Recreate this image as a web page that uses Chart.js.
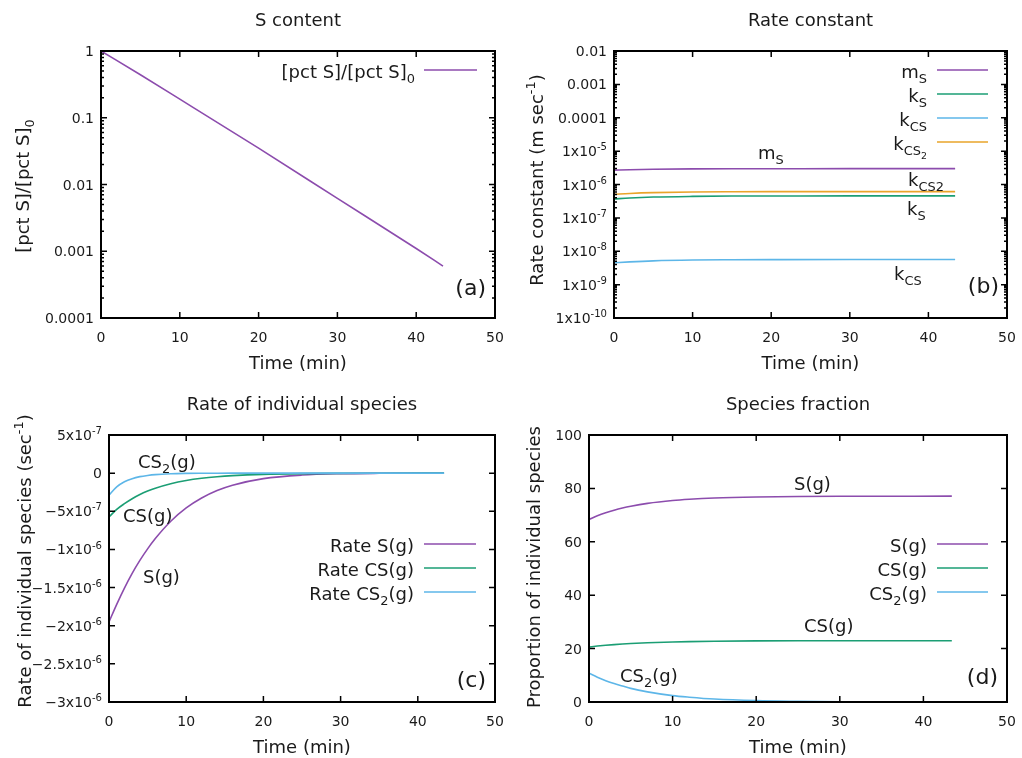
<!DOCTYPE html>
<html lang="en">
<head>
<meta charset="UTF-8">
<title>S content and rates</title>
<script src="https://cdn.jsdelivr.net/npm/chart.js"></script>
<style>
  body { margin: 0; background: #fff; }
  #wrap { position: relative; width: 1022px; height: 758px; }
  canvas { position: absolute; }
</style>
</head>
<body>
<div id="wrap">
  <canvas id="chartA" width="511" height="379" style="left:0;top:0"></canvas>
  <canvas id="chartB" width="511" height="379" style="left:511px;top:0"></canvas>
  <canvas id="chartC" width="511" height="379" style="left:0;top:379px"></canvas>
  <canvas id="chartD" width="511" height="379" style="left:511px;top:379px"></canvas>
</div>
<script>
// ---- data ----
const xTicks = [0, 10, 20, 30, 40, 50];

// (a) S content
const timeA = [0, 5, 10, 20, 30, 40, 43.4];
const sRatio = [1, 0.44, 0.19, 0.035, 0.0062, 0.0011, 0.0006];
const yTicksA = [1, 0.1, 0.01, 0.001, 0.0001];
const yLabelsA = ['1', '0.1', '0.01', '0.001', '0.0001'];

// (b) rate constants
const timeB = [0, 2, 5, 10, 15, 20, 30, 43.4];
const mS   = [2.7e-6, 2.78e-6, 2.86e-6, 2.93e-6, 2.96e-6, 2.97e-6, 2.98e-6, 2.98e-6];
const kS   = [3.7e-7, 3.95e-7, 4.2e-7, 4.4e-7, 4.5e-7, 4.52e-7, 4.55e-7, 4.55e-7];
const kCS  = [4.5e-9, 4.8e-9, 5.15e-9, 5.45e-9, 5.55e-9, 5.6e-9, 5.65e-9, 5.65e-9];
const kCS2 = [5.1e-7, 5.4e-7, 5.7e-7, 5.95e-7, 6.05e-7, 6.1e-7, 6.1e-7, 6.1e-7];
const yTicksB = [1e-2, 1e-3, 1e-4, 1e-5, 1e-6, 1e-7, 1e-8, 1e-9, 1e-10];
const yLabelsB = ['0.01', '0.001', '0.0001', '1x10^{-5}', '1x10^{-6}', '1x10^{-7}', '1x10^{-8}', '1x10^{-9}', '1x10^{-10}'];

// (c) rate of individual species
const timeC = [0, 1, 2, 3, 4, 5, 6, 8, 10, 12, 14, 16, 20, 25, 30, 35, 43.4];
const rateS   = [-1.95e-6, -1.72e-6, -1.507e-6, -1.314e-6, -1.144e-6, -9.93e-7, -8.58e-7, -6.31e-7, -4.56e-7, -3.26e-7, -2.28e-7, -1.58e-7, -7.2e-8, -2.5e-8, -7.6e-9, -2e-9, 0];
const rateCS  = [-5.75e-7, -4.75e-7, -4.0e-7, -3.35e-7, -2.8e-7, -2.35e-7, -1.97e-7, -1.38e-7, -9.6e-8, -6.7e-8, -4.7e-8, -3.3e-8, -1.6e-8, -6.5e-9, -2.6e-9, -1e-9, 0];
const rateCS2 = [-2.88e-7, -1.8e-7, -1.13e-7, -7.2e-8, -4.6e-8, -3.0e-8, -1.9e-8, -8e-9, -3.3e-9, -1.4e-9, -6e-10, -2.5e-10, -5e-11, 0, 0, 0, 0];
const yTicksC = [5e-7, 0, -5e-7, -1e-6, -1.5e-6, -2e-6, -2.5e-6, -3e-6];
const yLabelsC = ['5x10^{-7}', '0', '\u22125x10^{-7}', '\u22121x10^{-6}', '\u22121.5x10^{-6}', '\u22122x10^{-6}', '\u22122.5x10^{-6}', '\u22123x10^{-6}'];

// (d) species fraction
const timeD = [0, 1, 2, 3, 4, 5, 7, 10, 12, 15, 20, 25, 30, 43.4];
const fracS   = [68.4, 69.74, 70.86, 71.82, 72.64, 73.32, 74.39, 75.46, 75.92, 76.39, 76.79, 76.97, 77.04, 77.1];
const fracCS  = [20.6, 20.95, 21.25, 21.5, 21.72, 21.9, 22.2, 22.5, 22.63, 22.77, 22.88, 22.93, 22.95, 22.96];
const fracCS2 = [10.8, 9.3, 8.0, 6.9, 6.0, 5.1, 3.8, 2.4, 1.8, 1.1, 0.5, 0.25, 0.1, 0.02];
const yTicksD = [0, 20, 40, 60, 80, 100];
const yLabelsD = ['0', '20', '40', '60', '80', '100'];

const PURPLE = '#8c4cad', GREEN = '#1b9e74', BLUE = '#5db6e8', ORANGE = '#e9a42a';
const FONT = '"DejaVu Sans", sans-serif';
const INK = '#1a1a1a';

// ---- rich text: a_{sub}, a^{sup}, nesting allowed ----
function parseRich(s, scale, dy, out) {
  let buf = '', i = 0;
  while (i < s.length) {
    const c = s[i];
    if ((c === '_' || c === '^') && s[i + 1] === '{') {
      if (buf) { out.push({ t: buf, scale, dy }); buf = ''; }
      let depth = 1, j = i + 2;
      while (j < s.length && depth > 0) {
        if (s[j] === '{') depth++;
        else if (s[j] === '}') depth--;
        j++;
      }
      const inner = s.slice(i + 2, j - 1);
      if (c === '_') parseRich(inner, scale * 0.72, dy + 0.3 * scale, out);
      else parseRich(inner, scale * 0.72, dy - 0.42 * scale, out);
      i = j;
    } else { buf += c; i++; }
  }
  if (buf) out.push({ t: buf, scale, dy });
  return out;
}

function drawRich(ctx, str, x, y, size, align) {
  const segs = parseRich(str, 1, 0, []);
  let w = 0;
  segs.forEach(sg => {
    ctx.font = (size * sg.scale) + 'px ' + FONT;
    sg.w = ctx.measureText(sg.t).width;
    w += sg.w;
  });
  let cx = align === 'right' ? x - w : align === 'center' ? x - w / 2 : x;
  ctx.textAlign = 'left';
  ctx.textBaseline = 'alphabetic';
  ctx.fillStyle = INK;
  segs.forEach(sg => {
    ctx.font = (size * sg.scale) + 'px ' + FONT;
    ctx.fillText(sg.t, cx, y + sg.dy * size);
    cx += sg.w;
  });
}

// per-canvas decorations (gnuplot look)
const panels = {
  chartA: {
    area: { left: 101, right: 495, top: 51, bottom: 318 },
    title: 'S content',
    yLabel: { t: '[pct S]/[pct S]_{0}', x: 29, y: 186 },
    yTicks: yTicksA, yLabels: yLabelsA, log: true,
    legend: { right: 415, x1: 424, x2: 477, ys: [70], labels: ['[pct S]/[pct S]_{0}'] },
    notes: [],
    tag: { t: '(a)', right: 486, y: 295 }
  },
  chartB: {
    area: { left: 103, right: 496, top: 51, bottom: 318 },
    title: 'Rate constant',
    yLabel: { t: 'Rate constant (m sec^{-1})', x: 32, y: 180 },
    yTicks: yTicksB, yLabels: yLabelsB, log: true,
    legend: { right: 416, x1: 426, x2: 477, ys: [70, 94, 118, 142], labels: ['m_{S}', 'k_{S}', 'k_{CS}', 'k_{CS_{2}}'] },
    notes: [
      { t: 'm_{S}', x: 247, y: 159 },
      { t: 'k_{CS2}', x: 397, y: 186 },
      { t: 'k_{S}', x: 396, y: 215 },
      { t: 'k_{CS}', x: 383, y: 280 }
    ],
    tag: { t: '(b)', right: 488, y: 293 }
  },
  chartC: {
    area: { left: 109, right: 495, top: 56, bottom: 323 },
    title: 'Rate of individual species',
    yLabel: { t: 'Rate of individual species (sec^{-1})', x: 31, y: 182 },
    yTicks: yTicksC, yLabels: yLabelsC, log: false,
    legend: { right: 414, x1: 424, x2: 476, ys: [165, 189, 213], labels: ['Rate S(g)', 'Rate CS(g)', 'Rate CS_{2}(g)'] },
    notes: [
      { t: 'CS_{2}(g)', x: 138, y: 89 },
      { t: 'CS(g)', x: 123, y: 143 },
      { t: 'S(g)', x: 143, y: 204 }
    ],
    tag: { t: '(c)', right: 486, y: 308 }
  },
  chartD: {
    area: { left: 78, right: 496, top: 56, bottom: 323 },
    title: 'Species fraction',
    yLabel: { t: 'Proportion of individual species', x: 29, y: 188 },
    yTicks: yTicksD, yLabels: yLabelsD, log: false,
    legend: { right: 416, x1: 426, x2: 477, ys: [165, 189, 213], labels: ['S(g)', 'CS(g)', 'CS_{2}(g)'] },
    notes: [
      { t: 'S(g)', x: 283, y: 111 },
      { t: 'CS(g)', x: 293, y: 253 },
      { t: 'CS_{2}(g)', x: 109, y: 303 }
    ],
    tag: { t: '(d)', right: 487, y: 305 }
  }
};

const gnuFrame = {
  id: 'gnuFrame',
  afterDraw(chart) {
    const p = panels[chart.canvas.id];
    const ctx = chart.ctx;
    const a = chart.chartArea;
    const xs = chart.scales.x, ys = chart.scales.y;
    ctx.save();

    // inward tick marks
    ctx.strokeStyle = '#000';
    ctx.lineWidth = 1.5;
    ctx.beginPath();
    xTicks.forEach(v => {
      const px = xs.getPixelForValue(v);
      ctx.moveTo(px, a.bottom); ctx.lineTo(px, a.bottom - 6);
      ctx.moveTo(px, a.top); ctx.lineTo(px, a.top + 6);
    });
    p.yTicks.forEach(v => {
      const py = ys.getPixelForValue(v);
      ctx.moveTo(a.left, py); ctx.lineTo(a.left + 6, py);
      ctx.moveTo(a.right, py); ctx.lineTo(a.right - 6, py);
    });
    if (p.log) {
      const lo = Math.round(Math.log10(ys.min)), hi = Math.round(Math.log10(ys.max));
      for (let k = lo; k < hi; k++) {
        for (let m = 2; m <= 9; m++) {
          const py = ys.getPixelForValue(m * Math.pow(10, k));
          ctx.moveTo(a.left, py); ctx.lineTo(a.left + 3, py);
          ctx.moveTo(a.right, py); ctx.lineTo(a.right - 3, py);
        }
      }
    }
    ctx.stroke();

    // frame
    ctx.lineWidth = 2;
    ctx.strokeRect(a.left, a.top, a.right - a.left, a.bottom - a.top);

    // tick labels
    xTicks.forEach(v => drawRich(ctx, String(v), xs.getPixelForValue(v), a.bottom + 24, 14, 'center'));
    p.yTicks.forEach((v, i) => drawRich(ctx, p.yLabels[i], a.left - 7, ys.getPixelForValue(v) + 5, 14, 'right'));

    // titles
    const cx = (a.left + a.right) / 2;
    drawRich(ctx, p.title, cx, a.top - 25, 18, 'center');
    drawRich(ctx, 'Time (min)', cx, a.bottom + 51, 18, 'center');
    ctx.save();
    ctx.translate(p.yLabel.x, p.yLabel.y);
    ctx.rotate(-Math.PI / 2);
    drawRich(ctx, p.yLabel.t, 0, 0, 18, 'center');
    ctx.restore();

    // key
    p.legend.ys.forEach((y, i) => {
      const ds = chart.data.datasets[i];
      ctx.strokeStyle = ds.borderColor;
      ctx.lineWidth = 1.5;
      ctx.beginPath();
      ctx.moveTo(p.legend.x1, y); ctx.lineTo(p.legend.x2, y);
      ctx.stroke();
      drawRich(ctx, p.legend.labels[i], p.legend.right, y + 7.5, 18, 'right');
    });

    // curve labels and panel tag
    p.notes.forEach(n => drawRich(ctx, n.t, n.x, n.y, 18, 'left'));
    drawRich(ctx, p.tag.t, p.tag.right, p.tag.y, 22, 'right');
    ctx.restore();
  }
};

function series(xs, ys, color, order) {
  return {
    data: xs.map((x, i) => ({ x: x, y: ys[i] })),
    borderColor: color,
    borderWidth: 1.6,
    pointRadius: 0,
    fill: false,
    cubicInterpolationMode: 'monotone',
    order: order
  };
}

function makePanel(id, yType, yMin, yMax, datasets) {
  const area = panels[id].area;
  return new Chart(document.getElementById(id), {
    type: 'line',
    data: { datasets: datasets },
    options: {
      responsive: false,
      animation: false,
      events: [],
      layout: { padding: { left: 0, top: area.top, right: 511 - area.right, bottom: 0 } },
      plugins: { legend: { display: false }, tooltip: { enabled: false }, title: { display: false } },
      scales: {
        x: {
          type: 'linear', min: 0, max: 50,
          ticks: { display: false }, grid: { display: false }, border: { display: false },
          afterFit: s => { s.height = 379 - area.bottom; }
        },
        y: {
          type: yType, min: yMin, max: yMax,
          ticks: { display: false }, grid: { display: false }, border: { display: false },
          afterFit: s => { s.width = area.left; }
        }
      }
    },
    plugins: [gnuFrame]
  });
}

makePanel('chartA', 'logarithmic', 1e-4, 1, [
  series(timeA, sRatio, PURPLE, 1)
]);
makePanel('chartB', 'logarithmic', 1e-10, 1e-2, [
  series(timeB, mS, PURPLE, 4),
  series(timeB, kS, GREEN, 3),
  series(timeB, kCS, BLUE, 2),
  series(timeB, kCS2, ORANGE, 1)
]);
makePanel('chartC', 'linear', -3e-6, 5e-7, [
  series(timeC, rateS, PURPLE, 3),
  series(timeC, rateCS, GREEN, 2),
  series(timeC, rateCS2, BLUE, 1)
]);
makePanel('chartD', 'linear', 0, 100, [
  series(timeD, fracS, PURPLE, 3),
  series(timeD, fracCS, GREEN, 2),
  series(timeD, fracCS2, BLUE, 1)
]);
</script>
</body>
</html>
